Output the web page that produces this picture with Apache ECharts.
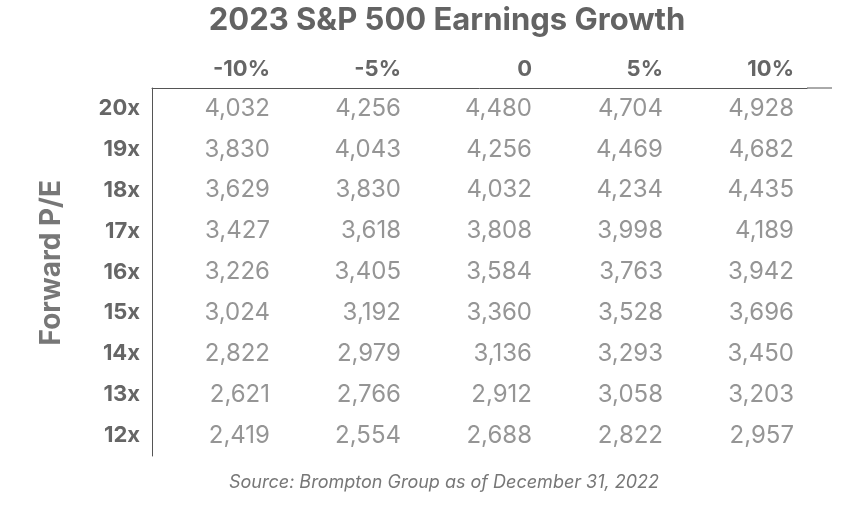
<!DOCTYPE html>
<html>
<head>
<meta charset="utf-8">
<script src="https://cdn.jsdelivr.net/npm/echarts@6/dist/echarts.min.js"></script>
<style>html,body{margin:0;background:#fff}#main{width:856px;height:512px}</style>
</head>
<body>
<div id="main"></div>
<script>
const growth = ["-10%", "-5%", "0", "5%", "10%"];
const multiples = ["20x", "19x", "18x", "17x", "16x", "15x", "14x", "13x", "12x"];
const values = [
  [4032, 4256, 4480, 4704, 4928],
  [3830, 4043, 4256, 4469, 4682],
  [3629, 3830, 4032, 4234, 4435],
  [3427, 3618, 3808, 3998, 4189],
  [3226, 3405, 3584, 3763, 3942],
  [3024, 3192, 3360, 3528, 3696],
  [2822, 2979, 3136, 3293, 3450],
  [2621, 2766, 2912, 3058, 3203],
  [2419, 2554, 2688, 2822, 2957]
];

const font = "Inter, 'Open Sans', sans-serif";
const points = [];
values.forEach((row, r) => row.forEach((v, c) => points.push([c, r, v])));

const chart = echarts.init(document.getElementById("main"));
chart.setOption({
  animation: false,
  title: {
    text: "2023 S&P 500 Earnings Growth",
    left: 442, top: 0, textAlign: "center",
    textStyle: { fontFamily: font, fontSize: 31, fontWeight: "bold", color: "#636363" }
  },
  graphic: [
    { type: "line", shape: { x1: 807, y1: 88, x2: 832, y2: 88 }, style: { stroke: "#555", lineWidth: 1 } },
    { type: "text", left: 38, top: 180, rotation: Math.PI / 2,
      style: { text: "Forward P/E", font: "bold 28px " + font, fill: "#777" } },
    { type: "text", left: 229, top: 474,
      style: { text: "Source: Brompton Group as of December 31, 2022", font: "italic 18px " + font, fill: "#777" } }
  ],
  grid: { left: 152, top: 88, width: 655, height: 368 },
  xAxis: {
    type: "category", data: growth, position: "top",
    axisLine: { lineStyle: { color: "#555" } }, axisTick: { show: false },
    axisLabel: {
      margin: 8, formatter: v => "{a|" + v + "}",
      rich: { a: { width: 105, align: "right", fontFamily: font, fontSize: 22, fontWeight: "bold", color: "#666" } }
    }
  },
  yAxis: {
    type: "category", data: multiples, inverse: true,
    axisLine: { lineStyle: { color: "#555" } }, axisTick: { show: false },
    axisLabel: { margin: 12, fontFamily: font, fontSize: 22, fontWeight: "bold", color: "#666" }
  },
  series: [{
    type: "scatter", data: points, symbolSize: 1,
    itemStyle: { color: "transparent" },
    label: {
      show: true, position: "inside",
      formatter: p => "{a|" + p.value[2].toLocaleString("en-US") + "}",
      rich: { a: { width: 105, align: "right", fontFamily: font, fontSize: 24, color: "#7a7a7a" } }
    }
  }]
});
</script>
</body>
</html>
